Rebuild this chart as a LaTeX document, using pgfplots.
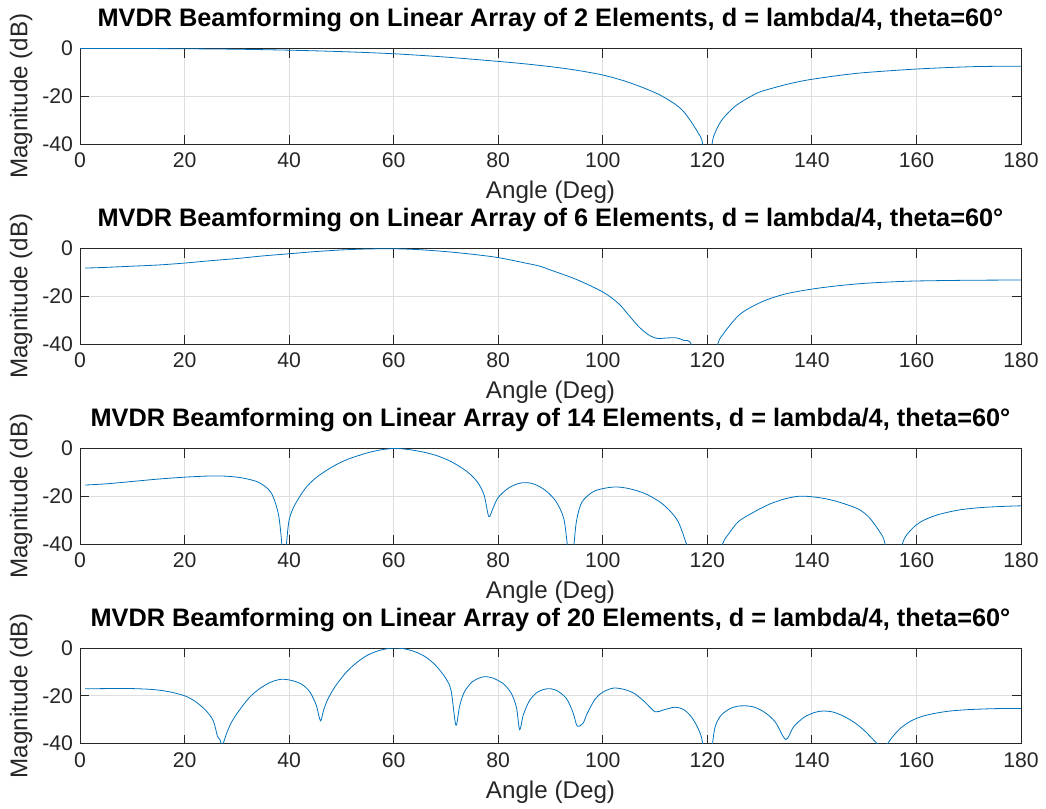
\documentclass[border=0pt]{standalone}
\usepackage{fontspec}
\setmainfont{Liberation Sans}
\usepackage{pgfplots}
\pgfplotsset{compat=1.18}
\definecolor{mblue}{rgb}{0,0.447,0.741}
\definecolor{axgray}{rgb}{0.15,0.15,0.15}
\pgfplotsset{mvdr/.style={
 scale only axis, width=470.5pt, height=47.75pt,
 xmin=0,xmax=180,ymin=-40,ymax=0,
 xtick={0,20,...,180}, ytick={-40,-20,0},
 /pgf/number format/assume math mode=true,
 tick label style={font=\fontsize{10.6}{12}\selectfont, text=axgray},
 xticklabel style={yshift=-1pt},
 grid=major, major grid style={draw=black!13, line width=0.4pt},
 axis line style={draw=axgray, line width=0.5pt},
 tick style={draw=axgray, line width=0.5pt},
 major tick length=4.5pt, tick align=inside,
 xlabel={Angle (Deg)}, ylabel={Magnitude (dB)},
 label style={font=\fontsize{12.1}{14}\selectfont, text=axgray},
 xlabel style={at={(axis description cs:0.5,-0.508)}, anchor=center},
 ylabel style={at={(axis description cs:-0.0627,0.5)}, anchor=center},
 title style={at={(axis description cs:0.5,1)}, anchor=base, yshift=4.85pt, font=\bfseries\fontsize{12.65}{14}\selectfont},
 cycle list={{draw=mblue, line width=0.7pt, no markers}},
 anchor=south west,
}}
\begin{document}
\begin{tikzpicture}
\useasboundingbox (0pt,0pt) rectangle (523pt,-404.5pt);
% ---- 2 elements
\begin{axis}[mvdr, at={(40pt,-72pt)}, title={MVDR Beamforming on Linear Array of 2 Elements, d = lambda/4, theta=60°}]
\addplot+[smooth, tension=0.5] coordinates {(0,0) (10,0) (20,-0.1) (30,-0.3) (40,-0.7) (50,-1.3) (60,-2.2) (70,-3.6) (80,-5.4) (85,-6.4) (90,-7.6) (95,-9.1) (100,-11.1) (104,-13.5) (107,-15.8) (110.3,-18.8) (112,-20.8) (114.1,-23.7) (115.5,-26.5) (116.7,-30) (117.6,-33) (118.3,-35.6) (119.1,-40) (120,-60) (120.9,-40) (121.7,-34.2) (123,-29.3) (125.6,-23.7) (129.4,-18.8) (132,-16.9) (135.8,-14.7) (140,-12.9) (148.6,-10.4) (160,-8.6) (170.9,-7.6) (180,-7.4)};
\end{axis}
% ---- 6 elements
\begin{axis}[mvdr, at={(40pt,-172pt)}, title={MVDR Beamforming on Linear Array of 6 Elements, d = lambda/4, theta=60°}]
\addplot+[smooth, tension=0.5] coordinates {(1,-8.2) (5,-7.9) (10,-7.4) (15,-6.9) (20,-6.1) (25,-5.1) (30,-4.2) (35,-3.1) (40,-2.2) (45,-1.3) (50,-0.6) (55,-0.2) (60,-0.1) (65,-0.5) (70,-1.3) (75,-2.4) (80,-3.8) (85,-6) (88,-7.4) (90,-9) (95,-13) (100,-18.2) (103,-23) (105,-28) (107,-33) (109,-36.5) (110.5,-37.7) (112,-37.5) (114,-37.4) (115.5,-38.5) (117,-40.5) (119.5,-60) (122,-40) (123,-36) (124,-33) (126,-28) (128,-25) (131,-21.8) (135,-19) (140,-17) (145,-15.6) (150,-14.6) (155,-14) (160,-13.6) (170,-13.3) (180,-13.2)};
\end{axis}
% ---- 14 elements
\begin{axis}[mvdr, at={(40pt,-272pt)}, title={MVDR Beamforming on Linear Array of 14 Elements, d = lambda/4, theta=60°}]
\addplot+[smooth, tension=0.5] coordinates {(1,-15.3) (5,-14.8) (10,-13.8) (15,-12.8) (20,-12) (25,-11.5) (28,-11.6) (31,-12.3) (34,-14) (36,-17) (37,-20.5) (38,-28) (38.6,-40) (39,-55) (39.5,-40) (40,-30) (41,-24) (43,-17) (45,-12.5) (48,-8) (51,-4.7) (55,-1.8) (58,-0.4) (60,0) (62,-0.2) (65,-1.2) (68,-2.8) (71,-5.5) (74,-9.6) (76,-14) (77.3,-19.5) (78.2,-28.5) (79,-25) (80,-20.5) (82,-16.5) (84,-14.6) (85.5,-14.3) (87,-15) (89,-17.5) (91,-22) (92.5,-29) (93.2,-40) (93.9,-55) (94.5,-40) (95,-30) (96,-22.5) (98,-18.3) (100,-16.8) (102.5,-16.1) (105,-16.8) (108,-18.8) (111,-22.5) (113,-26.5) (114.5,-31) (116,-40) (119,-60) (122.9,-40) (124,-36) (126,-30.5) (129,-26.5) (132,-23.2) (135,-21) (137.5,-20) (140,-20.2) (143,-21.2) (146,-23) (149,-25.5) (151,-29) (153,-35) (154,-40) (155.5,-60) (157.3,-40) (159,-34) (161,-30.5) (164,-27.8) (168,-25.8) (172,-24.8) (176,-24.3) (180,-24)};
\end{axis}
% ---- 20 elements
\begin{axis}[mvdr, at={(40pt,-371.75pt)}, title={MVDR Beamforming on Linear Array of 20 Elements, d = lambda/4, theta=60°}]
\addplot+[smooth, tension=0.5] coordinates {(1,-17.1) (5,-17) (10,-17) (14,-17.4) (17,-18.3) (20,-20) (22,-22.3) (24,-26) (25.5,-30.5) (26.3,-37) (26.8,-38.5) (27.2,-41) (28,-36) (29,-31) (30.5,-26) (32.5,-20.5) (34.5,-16.8) (36.5,-14.3) (38.5,-13.1) (40.5,-13.6) (42.5,-15.3) (44,-18.5) (45.2,-24) (46,-30.5) (46.6,-26) (47.5,-21) (49,-15.5) (51,-10) (53,-6) (55,-3) (57,-1.2) (59,-0.2) (60.5,0) (62,-0.3) (64,-1.5) (66,-3.6) (68,-7.2) (70,-12.8) (71,-18) (71.9,-32.3) (72.6,-24.5) (73.5,-18.5) (75,-14.2) (76.5,-12.5) (77.5,-12) (79,-12.6) (81,-15) (82.5,-19) (83.5,-25) (84.1,-34.2) (84.8,-28) (86,-22) (87.5,-18.5) (89.3,-17.1) (91,-17.6) (93,-21) (94.3,-27) (95.1,-32.6) (96.2,-31.6) (97,-27.5) (98.5,-21.5) (100,-18.5) (102,-16.8) (104,-17.3) (106,-19) (108,-22.5) (110,-26.7) (111.5,-26) (113.8,-24.8) (115.5,-25.8) (117,-29) (118.3,-34) (119.1,-40) (120,-60) (121,-40) (121.5,-33) (122.5,-28.5) (124,-25.8) (125.5,-24.5) (127.2,-24.2) (129,-24.8) (131,-27) (133,-31) (135,-38.3) (136.5,-33) (138.5,-29) (140.5,-27) (142.1,-26.4) (144,-26.8) (146,-28.5) (148,-31) (150,-34.5) (152,-39) (152.5,-40) (153.5,-43) (154.5,-40) (155.5,-37) (157,-33.5) (159,-30.5) (161,-28.7) (163,-27.6) (166,-26.5) (170,-25.8) (175,-25.4) (180,-25.3)};
\end{axis}
\end{tikzpicture}
\end{document}
